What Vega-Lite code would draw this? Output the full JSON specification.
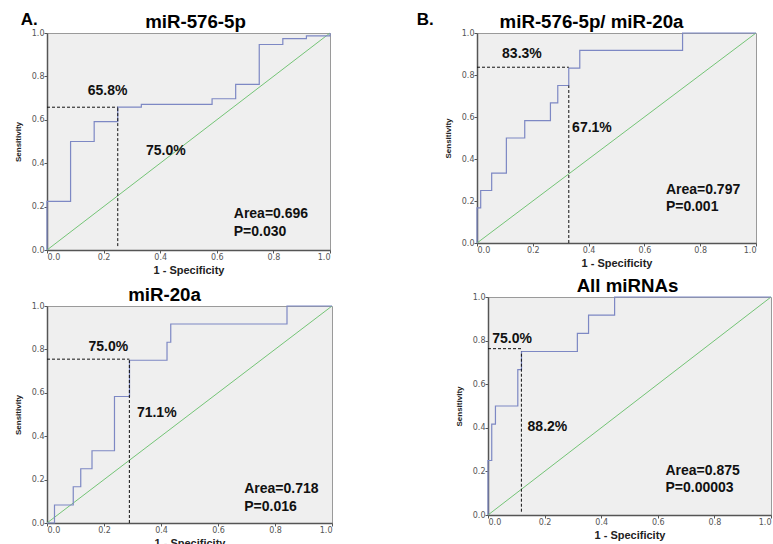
{
  "$schema": "https://vega.github.io/schema/vega-lite/v6.json",
  "padding": {"left": 13, "top": 10, "right": 0, "bottom": 0},
  "datasets": {
    "diag": [{"fpr": 0, "tpr": 0}, {"fpr": 1, "tpr": 1}],
    "roc": [
      {"panel": "A", "fpr": 0, "tpr": 0},
      {"panel": "A", "fpr": 0, "tpr": 0.224},
      {"panel": "A", "fpr": 0.0833, "tpr": 0.5},
      {"panel": "A", "fpr": 0.1667, "tpr": 0.592},
      {"panel": "A", "fpr": 0.25, "tpr": 0.658},
      {"panel": "A", "fpr": 0.3333, "tpr": 0.671},
      {"panel": "A", "fpr": 0.5833, "tpr": 0.697},
      {"panel": "A", "fpr": 0.6667, "tpr": 0.763},
      {"panel": "A", "fpr": 0.75, "tpr": 0.947},
      {"panel": "A", "fpr": 0.8333, "tpr": 0.974},
      {"panel": "A", "fpr": 0.9167, "tpr": 0.987},
      {"panel": "A", "fpr": 1, "tpr": 1},
      {"panel": "B", "fpr": 0, "tpr": 0},
      {"panel": "B", "fpr": 0, "tpr": 0.167},
      {"panel": "B", "fpr": 0.0132, "tpr": 0.25},
      {"panel": "B", "fpr": 0.0526, "tpr": 0.333},
      {"panel": "B", "fpr": 0.1053, "tpr": 0.5},
      {"panel": "B", "fpr": 0.1711, "tpr": 0.583},
      {"panel": "B", "fpr": 0.2632, "tpr": 0.667},
      {"panel": "B", "fpr": 0.2895, "tpr": 0.75},
      {"panel": "B", "fpr": 0.3289, "tpr": 0.833},
      {"panel": "B", "fpr": 0.3684, "tpr": 0.917},
      {"panel": "B", "fpr": 0.7368, "tpr": 1},
      {"panel": "B", "fpr": 1, "tpr": 1},
      {"panel": "C", "fpr": 0, "tpr": 0},
      {"panel": "C", "fpr": 0.0263, "tpr": 0.083},
      {"panel": "C", "fpr": 0.0921, "tpr": 0.167},
      {"panel": "C", "fpr": 0.1184, "tpr": 0.25},
      {"panel": "C", "fpr": 0.1579, "tpr": 0.333},
      {"panel": "C", "fpr": 0.2368, "tpr": 0.583},
      {"panel": "C", "fpr": 0.2895, "tpr": 0.75},
      {"panel": "C", "fpr": 0.4211, "tpr": 0.833},
      {"panel": "C", "fpr": 0.4342, "tpr": 0.917},
      {"panel": "C", "fpr": 0.8421, "tpr": 1},
      {"panel": "C", "fpr": 1, "tpr": 1},
      {"panel": "D", "fpr": 0, "tpr": 0},
      {"panel": "D", "fpr": 0, "tpr": 0.25},
      {"panel": "D", "fpr": 0.0132, "tpr": 0.417},
      {"panel": "D", "fpr": 0.0263, "tpr": 0.5},
      {"panel": "D", "fpr": 0.1053, "tpr": 0.667},
      {"panel": "D", "fpr": 0.1184, "tpr": 0.75},
      {"panel": "D", "fpr": 0.3158, "tpr": 0.833},
      {"panel": "D", "fpr": 0.3553, "tpr": 0.917},
      {"panel": "D", "fpr": 0.4474, "tpr": 1},
      {"panel": "D", "fpr": 1, "tpr": 1}
    ],
    "cut": [
      {"panel": "A", "x0": 0, "x1": 0.25, "y0": 0.658, "y1": 0.658},
      {"panel": "A", "x0": 0.25, "x1": 0.25, "y0": 0.018, "y1": 0.658},
      {"panel": "B", "x0": 0, "x1": 0.329, "y0": 0.837, "y1": 0.837},
      {"panel": "B", "x0": 0.329, "x1": 0.329, "y0": 0, "y1": 0.75},
      {"panel": "C", "x0": 0, "x1": 0.289, "y0": 0.755, "y1": 0.755},
      {"panel": "C", "x0": 0.289, "x1": 0.289, "y0": 0, "y1": 0.75},
      {"panel": "D", "x0": 0, "x1": 0.118, "y0": 0.763, "y1": 0.763},
      {"panel": "D", "x0": 0.118, "x1": 0.118, "y0": 0.015, "y1": 0.75}
    ],
    "pct": [
      {"panel": "A", "fpr": 0.214, "tpr": 0.735, "label": "65.8%"},
      {"panel": "A", "fpr": 0.42, "tpr": 0.458, "label": "75.0%"},
      {"panel": "B", "fpr": 0.161, "tpr": 0.9, "label": "83.3%"},
      {"panel": "B", "fpr": 0.412, "tpr": 0.548, "label": "67.1%"},
      {"panel": "C", "fpr": 0.215, "tpr": 0.809, "label": "75.0%"},
      {"panel": "C", "fpr": 0.385, "tpr": 0.509, "label": "71.1%"},
      {"panel": "D", "fpr": 0.085, "tpr": 0.809, "label": "75.0%"},
      {"panel": "D", "fpr": 0.21, "tpr": 0.404, "label": "88.2%"}
    ],
    "stat": [
      {"panel": "A", "fpr": 0.66, "tpr": 0.165, "label": "Area=0.696"},
      {"panel": "A", "fpr": 0.66, "tpr": 0.085, "label": "P=0.030"},
      {"panel": "B", "fpr": 0.677, "tpr": 0.254, "label": "Area=0.797"},
      {"panel": "B", "fpr": 0.677, "tpr": 0.17, "label": "P=0.001"},
      {"panel": "C", "fpr": 0.692, "tpr": 0.155, "label": "Area=0.718"},
      {"panel": "C", "fpr": 0.692, "tpr": 0.075, "label": "P=0.016"},
      {"panel": "D", "fpr": 0.627, "tpr": 0.202, "label": "Area=0.875"},
      {"panel": "D", "fpr": 0.627, "tpr": 0.122, "label": "P=0.00003"}
    ]
  },
  "hconcat": [
    {
      "title": {"text": "A.", "anchor": "start", "fontSize": 17, "offset": -16, "dx": 7},
      "spacing": 9,
      "vconcat": [
        {
          "width": 283, "height": 217,
          "title": {"text": "miR-576-5p", "dx": 7},
          "layer": [
            {"data": {"name": "diag"}, "mark": {"type": "line", "color": "#74c476", "strokeWidth": 1},
             "encoding": {
               "x": {"field": "fpr", "type": "quantitative", "scale": {"domain": [0, 1], "nice": false}, "axis": {"values": [0, 0.2, 0.4, 0.6, 0.8, 1], "format": ".1f"}, "title": "1 - Specificity"},
               "y": {"field": "tpr", "type": "quantitative", "scale": {"domain": [0, 1], "nice": false}, "axis": {"values": [0, 0.2, 0.4, 0.6, 0.8, 1], "format": ".1f"}, "title": "Sensitivity"}}},
            {"data": {"name": "roc"}, "transform": [{"filter": "datum.panel == 'A'"}], "mark": {"type": "line", "interpolate": "step-after", "color": "#7d88c4", "strokeWidth": 1.2},
             "encoding": {"x": {"field": "fpr", "type": "quantitative"}, "y": {"field": "tpr", "type": "quantitative"}, "order": {"value": null}}},
            {"data": {"name": "cut"}, "transform": [{"filter": "datum.panel == 'A'"}], "mark": {"type": "rule", "color": "#111", "strokeDash": [3, 2], "strokeWidth": 1},
             "encoding": {"x": {"field": "x0", "type": "quantitative"}, "x2": {"field": "x1"}, "y": {"field": "y0", "type": "quantitative"}, "y2": {"field": "y1"}}},
            {"data": {"name": "pct"}, "transform": [{"filter": "datum.panel == 'A'"}], "mark": {"type": "text", "align": "center", "baseline": "middle", "font": "Liberation Sans", "fontWeight": "bold", "fontSize": 14, "color": "#111"},
             "encoding": {"x": {"field": "fpr", "type": "quantitative"}, "y": {"field": "tpr", "type": "quantitative"}, "text": {"field": "label"}}},
            {"data": {"name": "stat"}, "transform": [{"filter": "datum.panel == 'A'"}], "mark": {"type": "text", "align": "left", "baseline": "middle", "font": "Liberation Sans", "fontWeight": "bold", "fontSize": 14, "color": "#111"},
             "encoding": {"x": {"field": "fpr", "type": "quantitative"}, "y": {"field": "tpr", "type": "quantitative"}, "text": {"field": "label"}}}
          ]
        },
        {
          "width": 285, "height": 217,
          "title": {"text": "miR-20a", "dx": -25},
          "layer": [
            {"data": {"name": "diag"}, "mark": {"type": "line", "color": "#74c476", "strokeWidth": 1},
             "encoding": {
               "x": {"field": "fpr", "type": "quantitative", "scale": {"domain": [0, 1], "nice": false}, "axis": {"values": [0, 0.2, 0.4, 0.6, 0.8, 1], "format": ".1f"}, "title": "1 - Specificity"},
               "y": {"field": "tpr", "type": "quantitative", "scale": {"domain": [0, 1], "nice": false}, "axis": {"values": [0, 0.2, 0.4, 0.6, 0.8, 1], "format": ".1f"}, "title": "Sensitivity"}}},
            {"data": {"name": "roc"}, "transform": [{"filter": "datum.panel == 'C'"}], "mark": {"type": "line", "interpolate": "step-after", "color": "#7d88c4", "strokeWidth": 1.2},
             "encoding": {"x": {"field": "fpr", "type": "quantitative"}, "y": {"field": "tpr", "type": "quantitative"}, "order": {"value": null}}},
            {"data": {"name": "cut"}, "transform": [{"filter": "datum.panel == 'C'"}], "mark": {"type": "rule", "color": "#111", "strokeDash": [3, 2], "strokeWidth": 1},
             "encoding": {"x": {"field": "x0", "type": "quantitative"}, "x2": {"field": "x1"}, "y": {"field": "y0", "type": "quantitative"}, "y2": {"field": "y1"}}},
            {"data": {"name": "pct"}, "transform": [{"filter": "datum.panel == 'C'"}], "mark": {"type": "text", "align": "center", "baseline": "middle", "font": "Liberation Sans", "fontWeight": "bold", "fontSize": 14, "color": "#111"},
             "encoding": {"x": {"field": "fpr", "type": "quantitative"}, "y": {"field": "tpr", "type": "quantitative"}, "text": {"field": "label"}}},
            {"data": {"name": "stat"}, "transform": [{"filter": "datum.panel == 'C'"}], "mark": {"type": "text", "align": "left", "baseline": "middle", "font": "Liberation Sans", "fontWeight": "bold", "fontSize": 14, "color": "#111"},
             "encoding": {"x": {"field": "fpr", "type": "quantitative"}, "y": {"field": "tpr", "type": "quantitative"}, "text": {"field": "label"}}}
          ]
        }
      ]
    },
    {
      "title": {"text": "B.", "anchor": "start", "fontSize": 17, "offset": -16, "dx": -27},
      "spacing": 7,
      "vconcat": [
        {
          "width": 279, "height": 210,
          "title": {"text": "miR-576-5p/ miR-20a", "dx": -25},
          "layer": [
            {"data": {"name": "diag"}, "mark": {"type": "line", "color": "#74c476", "strokeWidth": 1},
             "encoding": {
               "x": {"field": "fpr", "type": "quantitative", "scale": {"domain": [0, 1], "nice": false}, "axis": {"values": [0, 0.2, 0.4, 0.6, 0.8, 1], "format": ".1f"}, "title": "1 - Specificity"},
               "y": {"field": "tpr", "type": "quantitative", "scale": {"domain": [0, 1], "nice": false}, "axis": {"values": [0, 0.2, 0.4, 0.6, 0.8, 1], "format": ".1f"}, "title": "Sensitivity"}}},
            {"data": {"name": "roc"}, "transform": [{"filter": "datum.panel == 'B'"}], "mark": {"type": "line", "interpolate": "step-after", "color": "#7d88c4", "strokeWidth": 1.2},
             "encoding": {"x": {"field": "fpr", "type": "quantitative"}, "y": {"field": "tpr", "type": "quantitative"}, "order": {"value": null}}},
            {"data": {"name": "cut"}, "transform": [{"filter": "datum.panel == 'B'"}], "mark": {"type": "rule", "color": "#111", "strokeDash": [3, 2], "strokeWidth": 1},
             "encoding": {"x": {"field": "x0", "type": "quantitative"}, "x2": {"field": "x1"}, "y": {"field": "y0", "type": "quantitative"}, "y2": {"field": "y1"}}},
            {"data": {"name": "pct"}, "transform": [{"filter": "datum.panel == 'B'"}], "mark": {"type": "text", "align": "center", "baseline": "middle", "font": "Liberation Sans", "fontWeight": "bold", "fontSize": 14, "color": "#111"},
             "encoding": {"x": {"field": "fpr", "type": "quantitative"}, "y": {"field": "tpr", "type": "quantitative"}, "text": {"field": "label"}}},
            {"data": {"name": "stat"}, "transform": [{"filter": "datum.panel == 'B'"}], "mark": {"type": "text", "align": "left", "baseline": "middle", "font": "Liberation Sans", "fontWeight": "bold", "fontSize": 14, "color": "#111"},
             "encoding": {"x": {"field": "fpr", "type": "quantitative"}, "y": {"field": "tpr", "type": "quantitative"}, "text": {"field": "label"}}}
          ]
        },
        {
          "spacing": -24,
          "hconcat": [
            {
              "width": 1, "height": 1,
              "view": {"fill": null, "stroke": null},
              "data": {"values": []},
              "mark": {"type": "point", "opacity": 0},
              "encoding": {}
            },
            {
              "width": 283, "height": 218,
              "title": {"text": "All miRNAs", "dx": -2},
              "layer": [
                {"data": {"name": "diag"}, "mark": {"type": "line", "color": "#74c476", "strokeWidth": 1},
                 "encoding": {
                   "x": {"field": "fpr", "type": "quantitative", "scale": {"domain": [0, 1], "nice": false}, "axis": {"values": [0, 0.2, 0.4, 0.6, 0.8, 1], "format": ".1f"}, "title": "1 - Specificity"},
                   "y": {"field": "tpr", "type": "quantitative", "scale": {"domain": [0, 1], "nice": false}, "axis": {"values": [0, 0.2, 0.4, 0.6, 0.8, 1], "format": ".1f"}, "title": "Sensitivity"}}},
                {"data": {"name": "roc"}, "transform": [{"filter": "datum.panel == 'D'"}], "mark": {"type": "line", "interpolate": "step-after", "color": "#7d88c4", "strokeWidth": 1.2},
                 "encoding": {"x": {"field": "fpr", "type": "quantitative"}, "y": {"field": "tpr", "type": "quantitative"}, "order": {"value": null}}},
                {"data": {"name": "cut"}, "transform": [{"filter": "datum.panel == 'D'"}], "mark": {"type": "rule", "color": "#111", "strokeDash": [3, 2], "strokeWidth": 1},
                 "encoding": {"x": {"field": "x0", "type": "quantitative"}, "x2": {"field": "x1"}, "y": {"field": "y0", "type": "quantitative"}, "y2": {"field": "y1"}}},
                {"data": {"name": "pct"}, "transform": [{"filter": "datum.panel == 'D'"}], "mark": {"type": "text", "align": "center", "baseline": "middle", "font": "Liberation Sans", "fontWeight": "bold", "fontSize": 14, "color": "#111"},
                 "encoding": {"x": {"field": "fpr", "type": "quantitative"}, "y": {"field": "tpr", "type": "quantitative"}, "text": {"field": "label"}}},
                {"data": {"name": "stat"}, "transform": [{"filter": "datum.panel == 'D'"}], "mark": {"type": "text", "align": "left", "baseline": "middle", "font": "Liberation Sans", "fontWeight": "bold", "fontSize": 14, "color": "#111"},
                 "encoding": {"x": {"field": "fpr", "type": "quantitative"}, "y": {"field": "tpr", "type": "quantitative"}, "text": {"field": "label"}}}
              ]
            }
          ]
        }
      ]
    }
  ],
  "spacing": 81,
  "config": {
    "background": "#ffffff",
    "view": {"fill": "#efefef", "stroke": "#9a9a9a", "strokeWidth": 1},
    "title": {"font": "Liberation Sans", "fontSize": 18.7, "fontWeight": "bold", "color": "#000000", "offset": -3},
    "axis": {
      "grid": false,
      "domain": true, "domainColor": "#555555", "domainWidth": 1.5,
      "ticks": true, "tickColor": "#555555", "tickSize": 3, "tickWidth": 1,
      "labelFont": "DejaVu Sans", "labelFontSize": 8, "labelColor": "#555555", "labelPadding": 0,
      "titleFont": "Liberation Sans", "titleFontWeight": "bold", "titleFontSize": 11, "titleColor": "#222222"
    },
    "axisX": {"titlePadding": 3},
    "axisY": {"titleFont": "Liberation Sans", "titleFontSize": 8, "titlePadding": 9}
  }
}
